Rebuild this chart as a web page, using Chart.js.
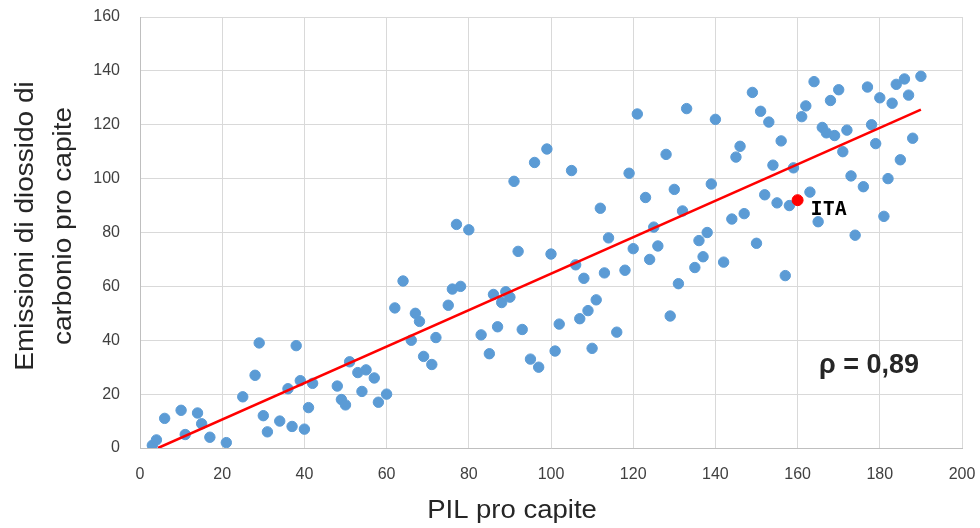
<!DOCTYPE html>
<html>
<head>
<meta charset="utf-8">
<script src="https://cdn.jsdelivr.net/npm/chart.js@4"></script>
<style>
html,body{margin:0;padding:0;background:#fff;}
#wrap{width:980px;height:528px;position:relative;}
</style>
</head>
<body>
<div id="wrap"><canvas id="c" width="980" height="528"></canvas></div>
<script>
const pilX = [3,4,6,10,11,14,15,17,21,25,28,29,30,31,34,36,37,38,39,40,41,42,48,49,50,51,53,54,55,57,58,60,62,64,66,67,68,69,71,72,75,76,77,78,80,83,85,86,87,88,89,90,91,92,93,95,96,97,99,100,101,102,105,106,107,108,109,110,111,112,113,114,116,118,119,120,121,123,124,125,126,128,129,130,131,132,133,135,136,137,138,139,140,142,144,145,146,147,149,150,151,152,153,154,155,156,157,158,159,161,162,163,164,165,166,167,168,169,170,171,172,173,174,176,177,178,179,180,181,182,183,184,185,186,187,188,190];
const co2Y = [1,3,11,14,5,13,9,4,2,19,27,39,12,6,10,22,8,38,25,7,15,24,23,18,16,32,28,21,29,26,17,20,52,62,40,50,47,34,31,41,53,59,83,60,81,42,35,57,45,54,58,56,99,73,44,33,106,30,111,72,36,46,103,68,48,63,51,37,55,89,65,78,43,66,102,74,124,93,70,82,75,109,49,96,61,88,126,67,77,71,80,98,122,69,85,108,112,87,132,76,125,94,121,105,91,114,64,90,104,123,127,95,136,84,119,117,129,116,133,110,118,101,79,97,134,120,113,130,86,100,128,135,107,137,131,115,138];
const itaX = [160];
const itaY = [92];
const trendX = [4.4, 190];
const trendY = [0, 125.6];
const xTicks = [0,20,40,60,80,100,120,140,160,180,200];
const yTicks = [0,20,40,60,80,100,120,140,160];
const itaLabel = 'ITA';
const rhoLabel = 'ρ = 0,89';
const xTitle = 'PIL pro capite';
const yTitle = ['Emissioni di diossido di', 'carbonio pro capite'];

const pts = pilX.map((x,i)=>({x:x,y:co2Y[i]}));
const ita = itaX.map((x,i)=>({x:x,y:itaY[i]}));
const trend = trendX.map((x,i)=>({x:x,y:trendY[i]}));

const textPlugin = {
  id:'texts',
  afterDraw(chart){
    const ctx = chart.ctx;
    const xs = chart.scales.x, ys = chart.scales.y;
    ctx.save();
    // ITA label
    ctx.fillStyle = '#000';
    ctx.font = 'bold 20px "DejaVu Sans Mono"';
    ctx.textAlign = 'left';
    ctx.textBaseline = 'middle';
    ctx.fillText(itaLabel, xs.getPixelForValue(itaX[0]) + 13, ys.getPixelForValue(itaY[0]) + 10);
    // rho
    ctx.font = 'bold 27px "Liberation Sans"';
    ctx.fillStyle = '#262626';
    ctx.textAlign = 'center';
    ctx.fillText(rhoLabel, 869, 366);
    // x title
    ctx.save();
    ctx.font = '25px "Liberation Sans"';
    ctx.fillStyle = '#262626';
    ctx.textAlign = 'center';
    ctx.translate(512, 511);
    ctx.scale(1.1, 1);
    ctx.fillText(xTitle, 0, 0);
    ctx.restore();
    // y title
    ctx.font = '25px "Liberation Sans"';
    ctx.fillStyle = '#262626';
    ctx.textAlign = 'center';
    ctx.translate(45, 226);
    ctx.rotate(-Math.PI/2);
    ctx.scale(1.12, 1);
    ctx.fillText(yTitle[0], 0, -19);
    ctx.fillText(yTitle[1], 0, 19);
    ctx.restore();
  }
};

new Chart(document.getElementById('c'), {
  type:'scatter',
  data:{
    datasets:[
      {label:'ITA', data:ita, backgroundColor:'#ff0000', borderColor:'#ff0000', pointRadius:5.5, pointHoverRadius:5.5, order:0},
      {label:'Trend', type:'line', data:trend, borderColor:'#ff0000', borderWidth:2.5, pointRadius:0, fill:false, order:1},
      {label:'Paesi', data:pts, backgroundColor:'#5b9bd5', borderColor:'#5b9bd5', pointRadius:5.2, pointHoverRadius:5.2, order:2}
    ]
  },
  options:{
    responsive:false,
    animation:false,
    events:[],
    layout:{padding:{left:0,right:18,top:17,bottom:0}},
    plugins:{legend:{display:false}, tooltip:{enabled:false}},
    scales:{
      x:{
        type:'linear', min:0, max:200,
        afterBuildTicks(s){ s.ticks = xTicks.map(v=>({value:v})); },
        afterFit(s){ s.height = 80; s.paddingLeft = 0; s.paddingRight = 0; },
        grid:{color:'#d9d9d9', drawTicks:false, lineWidth:1},
        border:{color:'#bfbfbf'},
        ticks:{color:'#404040', font:{family:'Liberation Sans', size:16}, padding:17, maxRotation:0}
      },
      y:{
        type:'linear', min:0, max:160,
        afterBuildTicks(s){ s.ticks = yTicks.map(v=>({value:v})); },
        afterFit(s){ s.width = 140; s.paddingTop = 0; s.paddingBottom = 0; },
        grid:{color:'#d9d9d9', drawTicks:false, lineWidth:1},
        border:{color:'#bfbfbf'},
        ticks:{color:'#404040', font:{family:'Liberation Sans', size:16}, padding:20}
      }
    }
  },
  plugins:[textPlugin]
});
</script>
</body>
</html>
